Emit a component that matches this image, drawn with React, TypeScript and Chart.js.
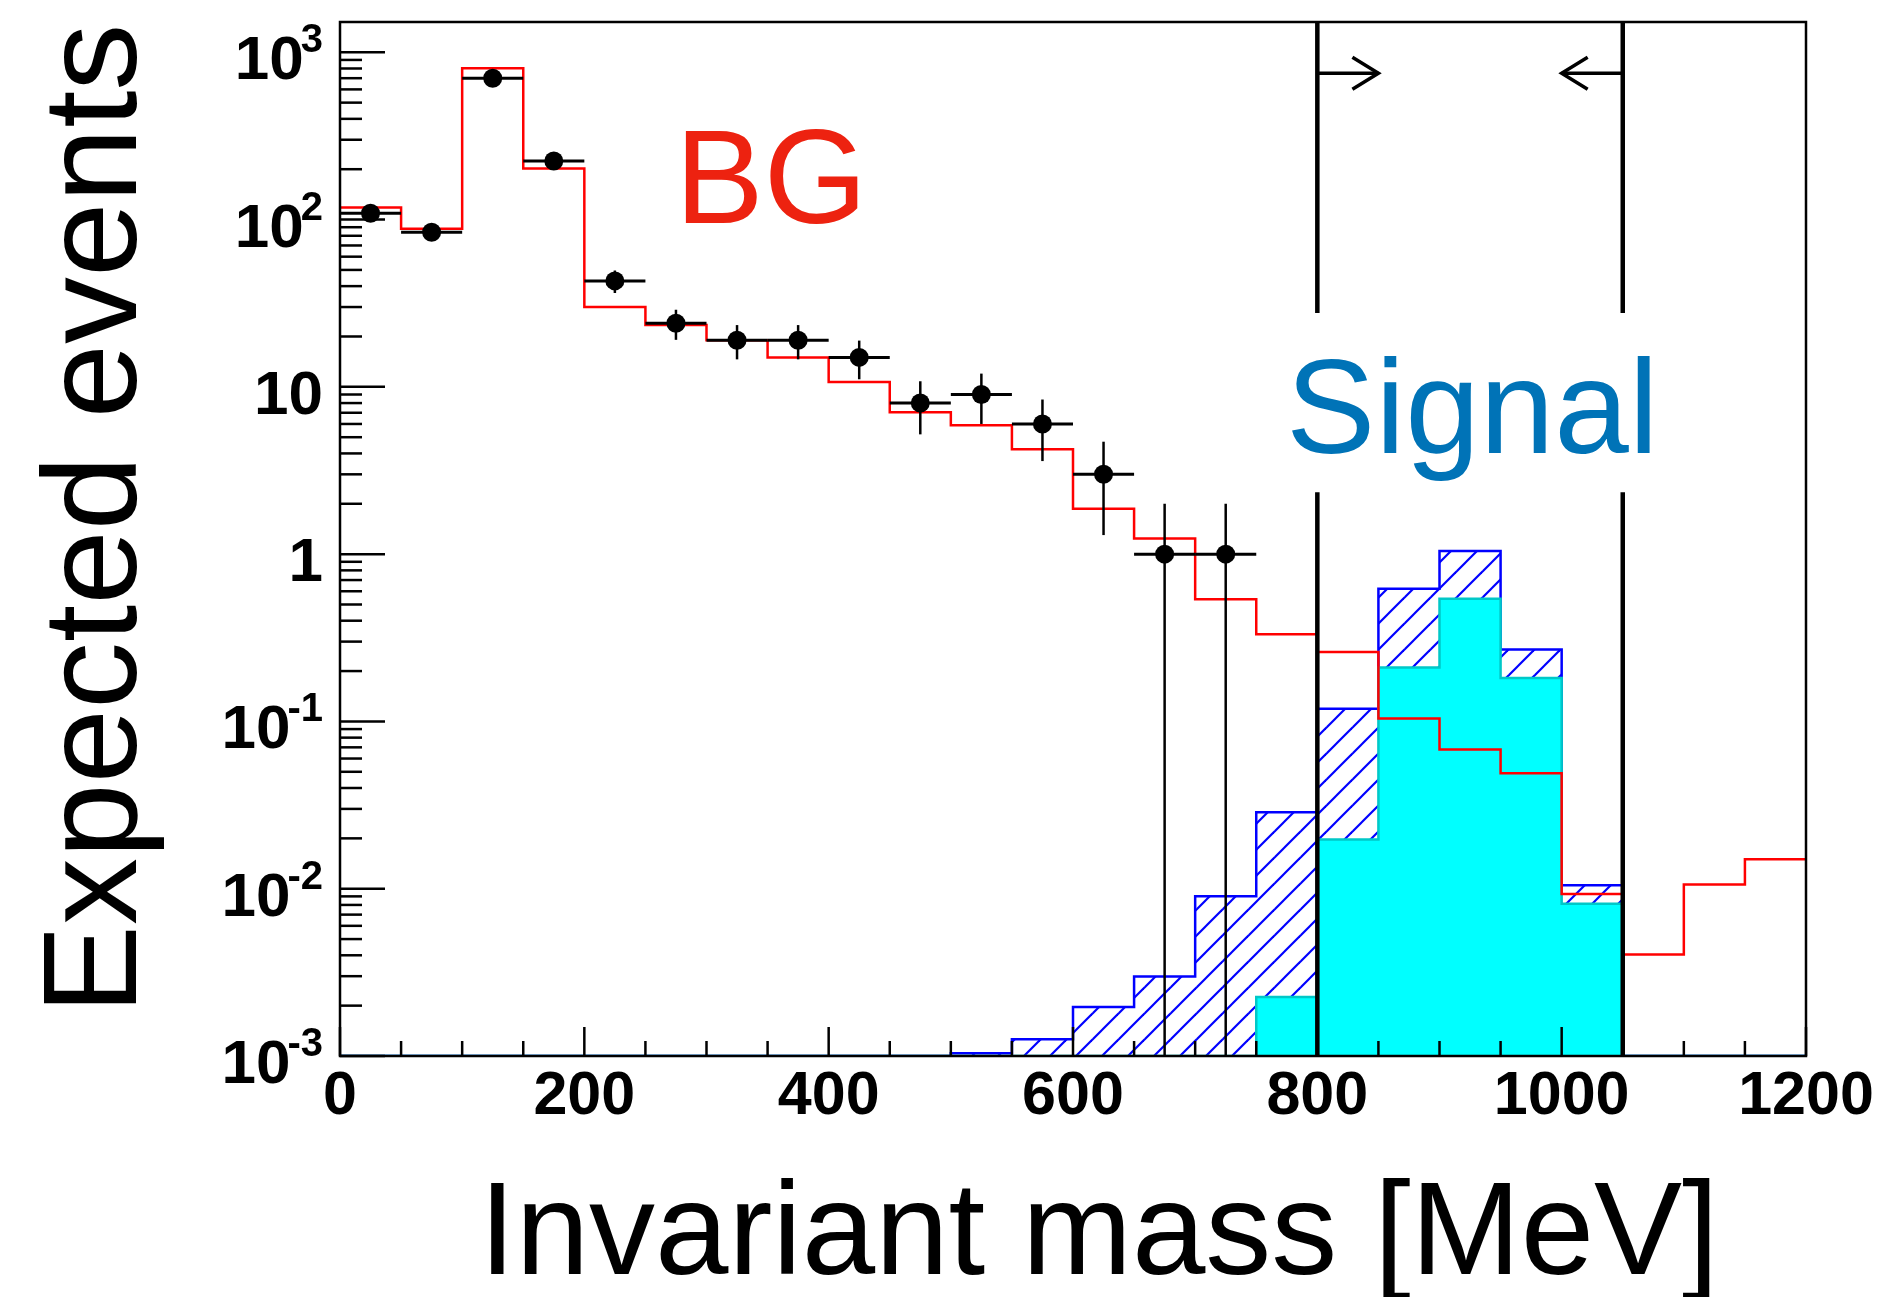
import React, { useEffect, useRef } from 'react';
import { Chart, registerables } from 'chart.js';

Chart.register(...registerables);

// ---------------- data ----------------
const BIN_EDGES = [0, 50, 100, 150, 200, 250, 300, 350, 400, 450, 500, 550, 600, 650, 700, 750, 800, 850, 900, 950, 1000, 1050, 1100, 1150, 1200];

// background (red) histogram, one value per bin
const BG_VALUES = [118, 88, 802, 202, 30, 23.4, 19, 15, 10.7, 7.06, 5.9, 4.24, 1.87, 1.24, 0.537, 0.332, 0.26, 0.104, 0.068, 0.049, 0.0093, 0.00405, 0.0106, 0.015];

// signal, all (blue hatched)
const SIGNAL_ALL = [0, 0, 0, 0, 0, 0, 0, 0, 0, 0, 0.00104, 0.00126, 0.00196, 0.00299, 0.00903, 0.0286, 0.119, 0.622, 1.045, 0.269, 0.0105, 0, 0, 0];

// signal, selected (cyan filled)
const SIGNAL_SEL = [0, 0, 0, 0, 0, 0, 0, 0, 0, 0, 0, 0, 0, 0, 0, 0.00225, 0.0197, 0.21, 0.542, 0.182, 0.00813, 0, 0, 0];

// data points (black markers with error bars)
const DATA_X = [25, 75, 125, 175, 225, 275, 325, 375, 425, 475, 525, 575, 625, 675, 725];
const DATA_Y = [109, 84, 699, 224, 43, 24, 19, 19, 15, 8, 9, 6, 3, 1, 1];
const DATA_ERR = [10.4, 9.2, 26.4, 15.0, 6.6, 4.9, 4.4, 4.4, 3.9, 2.8, 3.0, 2.4, 1.7, 1.0, 1.0];

// axes
const X_TICK_VALUES = [0, 200, 400, 600, 800, 1000, 1200];
const X_TICK_LABELS = ['0', '200', '400', '600', '800', '1000', '1200'];
const Y_DECADES = [-3, -2, -1, 0, 1, 2, 3];
const X_MIN = 0;
const X_MAX = 1200;
const Y_MIN = 0.001;
const Y_MAX = 1517;

// selection window
const CUT_LOW = 800;
const CUT_HIGH = 1050;
const ARROW_Y = 750;
const ARROW_LEN = 50;
const CUT_GAP = [2.34, 27.6];

const X_TITLE = 'Invariant mass [MeV]';
const Y_TITLE = 'Expected events';

// ---------------- helpers ----------------
const FONT = '"Liberation Sans", Arial, Helvetica, sans-serif';

function histPoints(values: number[]) {
  const pts = values.map((v, i) => ({ x: BIN_EDGES[i], y: v > 0 ? v : Y_MIN }));
  const last = values[values.length - 1];
  pts.push({ x: BIN_EDGES[BIN_EDGES.length - 1], y: last > 0 ? last : Y_MIN });
  return pts;
}

function makeHatch(): CanvasPattern | string {
  const s = 26;
  const c = document.createElement('canvas');
  c.width = s;
  c.height = s;
  const g = c.getContext('2d');
  if (!g) return 'rgba(0,0,255,0.2)';
  g.strokeStyle = '#0000FF';
  g.lineWidth = 2.2;
  for (const off of [-s, 0, s]) {
    g.beginPath();
    g.moveTo(off - 1, s + 1);
    g.lineTo(off + s + 1, -1);
    g.stroke();
  }
  const p = g.createPattern(c, 'repeat');
  return p || 'rgba(0,0,255,0.2)';
}

const decorPlugin = {
  id: 'decor',
  beforeDraw(chart: any) {
    const ctx = chart.ctx;
    ctx.save();
    ctx.fillStyle = '#ffffff';
    ctx.fillRect(0, 0, chart.width, chart.height);
    ctx.restore();
  },
  afterDatasetsDraw(chart: any) {
    const ctx: CanvasRenderingContext2D = chart.ctx;
    const ca = chart.chartArea;
    const xs = chart.scales.x;
    const ys = chart.scales.y;
    ctx.save();
    ctx.lineCap = 'butt';

    // error bars
    ctx.strokeStyle = '#000';
    DATA_X.forEach((cx, i) => {
      const px = xs.getPixelForValue(cx);
      const py = ys.getPixelForValue(DATA_Y[i]);
      ctx.lineWidth = 3;
      ctx.beginPath();
      ctx.moveTo(xs.getPixelForValue(BIN_EDGES[i]), py);
      ctx.lineTo(xs.getPixelForValue(BIN_EDGES[i + 1]), py);
      ctx.stroke();
      const hi = ys.getPixelForValue(DATA_Y[i] + DATA_ERR[i]);
      const lowVal = DATA_Y[i] - DATA_ERR[i];
      const lo = lowVal > Y_MIN ? ys.getPixelForValue(lowVal) : ca.bottom;
      ctx.lineWidth = 2.5;
      ctx.beginPath();
      ctx.moveTo(px, Math.max(hi, ca.top));
      ctx.lineTo(px, Math.min(lo, ca.bottom));
      ctx.stroke();
    });

    // selection cut lines
    ctx.lineWidth = 4.5;
    for (const c of [CUT_LOW, CUT_HIGH]) {
      const px = xs.getPixelForValue(c);
      ctx.beginPath();
      ctx.moveTo(px, ca.top);
      ctx.lineTo(px, ys.getPixelForValue(CUT_GAP[1]));
      ctx.moveTo(px, ys.getPixelForValue(CUT_GAP[0]));
      ctx.lineTo(px, ca.bottom);
      ctx.stroke();
    }
    // arrows
    const ay = ys.getPixelForValue(ARROW_Y);
    const arrow = (from: number, to: number) => {
      const x0 = xs.getPixelForValue(from);
      const x1 = xs.getPixelForValue(to);
      const dir = Math.sign(x1 - x0);
      ctx.lineWidth = 3.5;
      ctx.beginPath();
      ctx.moveTo(x0, ay);
      ctx.lineTo(x1, ay);
      ctx.stroke();
      ctx.beginPath();
      ctx.moveTo(x1 - dir * 26, ay - 16);
      ctx.lineTo(x1, ay);
      ctx.lineTo(x1 - dir * 26, ay + 16);
      ctx.stroke();
    };
    arrow(CUT_LOW, CUT_LOW + ARROW_LEN);
    arrow(CUT_HIGH, CUT_HIGH - ARROW_LEN);

    // frame
    ctx.lineWidth = 2.5;
    ctx.strokeStyle = '#000';
    ctx.strokeRect(ca.left, ca.top, ca.right - ca.left, ca.bottom - ca.top);

    // x ticks
    ctx.lineWidth = 2.5;
    for (let v = X_MIN; v <= X_MAX; v += 50) {
      const px = xs.getPixelForValue(v);
      const len = v % 200 === 0 ? 29 : 15;
      ctx.beginPath();
      ctx.moveTo(px, ca.bottom);
      ctx.lineTo(px, ca.bottom - len);
      ctx.stroke();
    }
    // y ticks
    for (const e of Y_DECADES) {
      for (let k = 1; k <= 9; k++) {
        const v = k * Math.pow(10, e);
        if (v < Y_MIN || v > Y_MAX) continue;
        const py = ys.getPixelForValue(v);
        const len = k === 1 ? 45 : 22;
        ctx.beginPath();
        ctx.moveTo(ca.left, py);
        ctx.lineTo(ca.left + len, py);
        ctx.stroke();
      }
    }

    // x tick labels
    ctx.fillStyle = '#000';
    ctx.font = `bold 61px ${FONT}`;
    ctx.textAlign = 'center';
    ctx.textBaseline = 'alphabetic';
    X_TICK_VALUES.forEach((v, i) => {
      ctx.fillText(X_TICK_LABELS[i], xs.getPixelForValue(v), ca.bottom + 58);
    });

    // y tick labels
    const rightEdge = ca.left - 17;
    Y_DECADES.forEach((e) => {
      const py = ys.getPixelForValue(Math.pow(10, e));
      ctx.textAlign = 'right';
      if (e === 0 || e === 1) {
        ctx.font = `bold 62px ${FONT}`;
        ctx.fillText(e === 0 ? '1' : '10', rightEdge, py + 27);
      } else {
        const exp = String(e);
        ctx.font = `bold 40px ${FONT}`;
        const ew = ctx.measureText(exp).width;
        ctx.fillText(exp, rightEdge, py);
        ctx.font = `bold 62px ${FONT}`;
        ctx.fillText('10', rightEdge - ew + 3, py + 27);
      }
    });

    // axis titles
    ctx.font = `132px ${FONT}`;
    ctx.textAlign = 'left';
    ctx.fillText(X_TITLE, 479, 1274);

    ctx.save();
    ctx.translate(136, 519);
    ctx.rotate(-Math.PI / 2);
    ctx.textAlign = 'center';
    ctx.font = `134px ${FONT}`;
    ctx.fillText(Y_TITLE, 0, 0);
    ctx.restore();

    // annotations
    ctx.textAlign = 'left';
    ctx.font = `133px ${FONT}`;
    ctx.fillStyle = '#ED2210';
    ctx.fillText('BG', 675, 223);
    ctx.fillStyle = '#0073B7';
    ctx.font = `134px ${FONT}`;
    ctx.fillText('Signal', 1286, 453);

    ctx.restore();
  },
};

export default function App() {
  const ref = useRef<HTMLCanvasElement>(null);

  useEffect(() => {
    document.body.style.margin = '0';
    if (!ref.current) return;
    const hatch = makeHatch();
    const chart = new Chart(ref.current, {
      type: 'line',
      data: {
        datasets: [
          {
            label: 'Data',
            data: DATA_X.map((x, i) => ({ x, y: DATA_Y[i] })),
            showLine: false,
            pointRadius: 9.5,
            pointHoverRadius: 9.5,
            pointBackgroundColor: '#000',
            pointBorderColor: '#000',
            pointBorderWidth: 0,
            order: 0,
          },
          {
            label: 'BG',
            data: histPoints(BG_VALUES),
            stepped: 'before',
            borderColor: '#FF0000',
            borderWidth: 2.5,
            pointRadius: 0,
            fill: false,
            order: 1,
          },
          {
            label: 'Signal selected',
            data: histPoints(SIGNAL_SEL),
            stepped: 'before',
            borderColor: '#00C8C8',
            borderWidth: 2.5,
            backgroundColor: '#00FFFF',
            pointRadius: 0,
            fill: 'start',
            order: 2,
          },
          {
            label: 'Signal all',
            data: histPoints(SIGNAL_ALL),
            stepped: 'before',
            borderColor: '#0000FF',
            borderWidth: 2.5,
            backgroundColor: hatch as any,
            pointRadius: 0,
            fill: 'start',
            order: 3,
          },
        ],
      },
      options: {
        animation: false,
        responsive: false,
        devicePixelRatio: 1,
        layout: { padding: { left: 340, right: 94, top: 22, bottom: 241 } },
        scales: {
          x: { type: 'linear', min: X_MIN, max: X_MAX, display: false },
          y: { type: 'logarithmic', min: Y_MIN, max: Y_MAX, display: false },
        },
        plugins: {
          legend: { display: false },
          tooltip: { enabled: false },
        },
        events: [],
      },
      plugins: [decorPlugin],
    });
    return () => chart.destroy();
  }, []);

  return (
    <div style={{ width: 1900, height: 1297, position: 'relative', overflow: 'hidden' }}>
      <canvas ref={ref} width={1900} height={1297} style={{ display: 'block', width: 1900, height: 1297 }} />
    </div>
  );
}
